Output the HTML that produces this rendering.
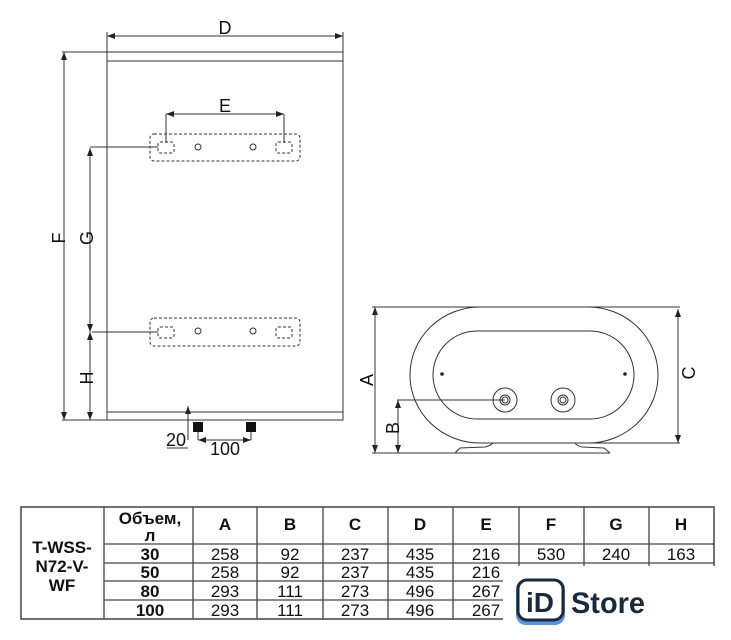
<!DOCTYPE html>
<html><head><meta charset="utf-8"><style>
body{margin:0;background:#fff;}
svg{display:block;}
text{font-family:"Liberation Sans",sans-serif;fill:#111;}
</style></head><body>
<svg width="731" height="640" viewBox="0 0 731 640" xmlns="http://www.w3.org/2000/svg">
<defs>
<marker id="ar" markerWidth="8" markerHeight="6" refX="8" refY="3" orient="auto-start-reverse" markerUnits="userSpaceOnUse"><path d="M0,0 L8,3 L0,6 z" fill="#222"/></marker>
</defs>
<g stroke="#333" stroke-width="1" fill="none">
<line x1="107" y1="36" x2="343" y2="36" marker-start="url(#ar)" marker-end="url(#ar)"/>
<line x1="107" y1="32" x2="107" y2="52"/><line x1="343" y1="32" x2="343" y2="52"/>
<rect x="107" y="52" width="236" height="9"/>
<rect x="107" y="412" width="236" height="8"/>
<line x1="107" y1="61" x2="107" y2="412"/><line x1="343" y1="61" x2="343" y2="412"/>
<line x1="62" y1="52" x2="107" y2="52"/><line x1="62" y1="420" x2="107" y2="420"/>
<line x1="64" y1="52" x2="64" y2="420" marker-start="url(#ar)" marker-end="url(#ar)"/>
<line x1="90" y1="148" x2="90" y2="332" marker-start="url(#ar)" marker-end="url(#ar)"/>
<line x1="90" y1="332" x2="90" y2="420" marker-start="url(#ar)" marker-end="url(#ar)"/>
<line x1="90" y1="147" x2="158" y2="147"/><line x1="92" y1="332" x2="158" y2="332"/>
<line x1="166" y1="114" x2="284" y2="114" marker-start="url(#ar)" marker-end="url(#ar)"/>
<line x1="166" y1="114" x2="166" y2="143"/><line x1="284" y1="114" x2="284" y2="143"/>
<g stroke-dasharray="3,2">
<rect x="150" y="134" width="150" height="27" rx="4"/>
<rect x="158" y="142" width="16" height="11" rx="2"/><rect x="276" y="142" width="16" height="11" rx="2"/>
<rect x="150" y="318" width="150" height="28" rx="4"/>
<rect x="158" y="327" width="16" height="11" rx="2"/><rect x="276" y="327" width="16" height="11" rx="2"/>
</g>
<circle cx="198" cy="147" r="3"/><circle cx="253" cy="147" r="3"/>
<circle cx="198" cy="331" r="3"/><circle cx="253" cy="331" r="3"/>
<line x1="188" y1="406" x2="188" y2="440" marker-start="url(#ar)"/>
<line x1="167" y1="448" x2="188" y2="448"/>
<line x1="198" y1="432" x2="198" y2="440"/><line x1="251" y1="432" x2="251" y2="440"/>
<line x1="198" y1="440" x2="251" y2="440" marker-start="url(#ar)" marker-end="url(#ar)"/>
<line x1="372" y1="307" x2="680" y2="307"/>
<line x1="372" y1="453" x2="610" y2="453"/>
<line x1="375" y1="307" x2="375" y2="453" marker-start="url(#ar)" marker-end="url(#ar)"/>
<line x1="397" y1="400" x2="505" y2="400"/>
<line x1="398" y1="400" x2="398" y2="453" marker-start="url(#ar)" marker-end="url(#ar)"/>
<line x1="540" y1="443" x2="680" y2="443"/>
<line x1="678" y1="309" x2="678" y2="443" marker-start="url(#ar)" marker-end="url(#ar)"/>
<rect x="410" y="307" width="248" height="136" rx="70" ry="68"/>
<rect x="433" y="331" width="201" height="88" rx="44" ry="44"/>
<circle cx="505" cy="400" r="12"/><circle cx="505" cy="400" r="5"/><circle cx="505" cy="400" r="3"/>
<circle cx="563" cy="400" r="12"/><circle cx="563" cy="400" r="5"/><circle cx="563" cy="400" r="3"/>
<path d="M455,453 L460,448 L485,447 Q490,446 493,443"/>
<path d="M610,453 L604,448 L582,447 Q577,446 575,443"/>
<rect x="21" y="507" width="693" height="112" stroke="#444" stroke-width="1.5"/>
<g stroke="#444" stroke-width="1.3">
<line x1="104" y1="507" x2="104" y2="619"/>
<line x1="193" y1="507" x2="193" y2="619"/><line x1="257" y1="507" x2="257" y2="619"/>
<line x1="323" y1="507" x2="323" y2="619"/><line x1="388" y1="507" x2="388" y2="619"/>
<line x1="453" y1="507" x2="453" y2="619"/><line x1="519" y1="507" x2="519" y2="619"/>
<line x1="584" y1="507" x2="584" y2="619"/><line x1="649" y1="507" x2="649" y2="619"/>
<line x1="104" y1="544" x2="714" y2="544"/><line x1="104" y1="563" x2="714" y2="563"/>
<line x1="104" y1="581" x2="714" y2="581"/><line x1="104" y1="600" x2="714" y2="600"/>
</g>
</g>
<circle cx="442" cy="374" r="1.8" fill="#222"/><circle cx="625" cy="374" r="1.8" fill="#222"/>
<rect x="193" y="422" width="10" height="10" fill="#111"/><rect x="246" y="422" width="10" height="10" fill="#111"/>
<g font-size="18" text-anchor="middle">
<text x="225" y="34">D</text>
<text x="225" y="112">E</text>
<text transform="translate(65,238) rotate(-90)">F</text>
<text transform="translate(93,238) rotate(-90)">G</text>
<text transform="translate(93,378) rotate(-90)">H</text>
<text x="176" y="446">20</text>
<text x="225" y="455">100</text>
<text transform="translate(373,380) rotate(-90)">A</text>
<text transform="translate(399,428) rotate(-90)">B</text>
<text transform="translate(695,373) rotate(-90)">C</text>
</g>
<g font-size="17" text-anchor="middle" font-weight="bold">
<text x="62" y="553">T-WSS-</text><text x="62" y="572">N72-V-</text><text x="62" y="591">WF</text>
<text x="150" y="524">Объем,</text><text x="150" y="541">л</text>
<text x="150" y="560">30</text><text x="150" y="578">50</text><text x="150" y="597">80</text><text x="150" y="616">100</text>
<text x="225" y="530">A</text><text x="290" y="530">B</text><text x="355" y="530">C</text><text x="420" y="530">D</text>
<text x="486" y="530">E</text><text x="551" y="530">F</text><text x="616" y="530">G</text><text x="681" y="530">H</text>
</g>
<g font-size="17" text-anchor="middle">
<text x="225" y="560">258</text><text x="290" y="560">92</text><text x="355" y="560">237</text><text x="420" y="560">435</text><text x="486" y="560">216</text><text x="551" y="560">530</text><text x="616" y="560">240</text><text x="681" y="560">163</text>
<text x="225" y="578">258</text><text x="290" y="578">92</text><text x="355" y="578">237</text><text x="420" y="578">435</text><text x="486" y="578">216</text>
<text x="225" y="597">293</text><text x="290" y="597">111</text><text x="355" y="597">273</text><text x="420" y="597">496</text><text x="486" y="597">267</text>
<text x="225" y="616">293</text><text x="290" y="616">111</text><text x="355" y="616">273</text><text x="420" y="616">496</text><text x="486" y="616">267</text>
</g>
<rect x="503" y="566" width="228" height="74" fill="#fff"/>
<rect x="516" y="579" width="49" height="46" rx="10" fill="#5b93e0"/>
<rect x="518" y="580" width="45" height="40" rx="9" fill="#fff" stroke="#1b2a3a" stroke-width="3"/>
<text x="540" y="612" font-size="28" font-weight="bold" text-anchor="middle" style="fill:#1b2a3a">iD</text>
<text x="571" y="613" font-size="30" font-weight="bold" textLength="74" lengthAdjust="spacingAndGlyphs" style="fill:#1b2a3a">Store</text>
</svg>
</body></html>
